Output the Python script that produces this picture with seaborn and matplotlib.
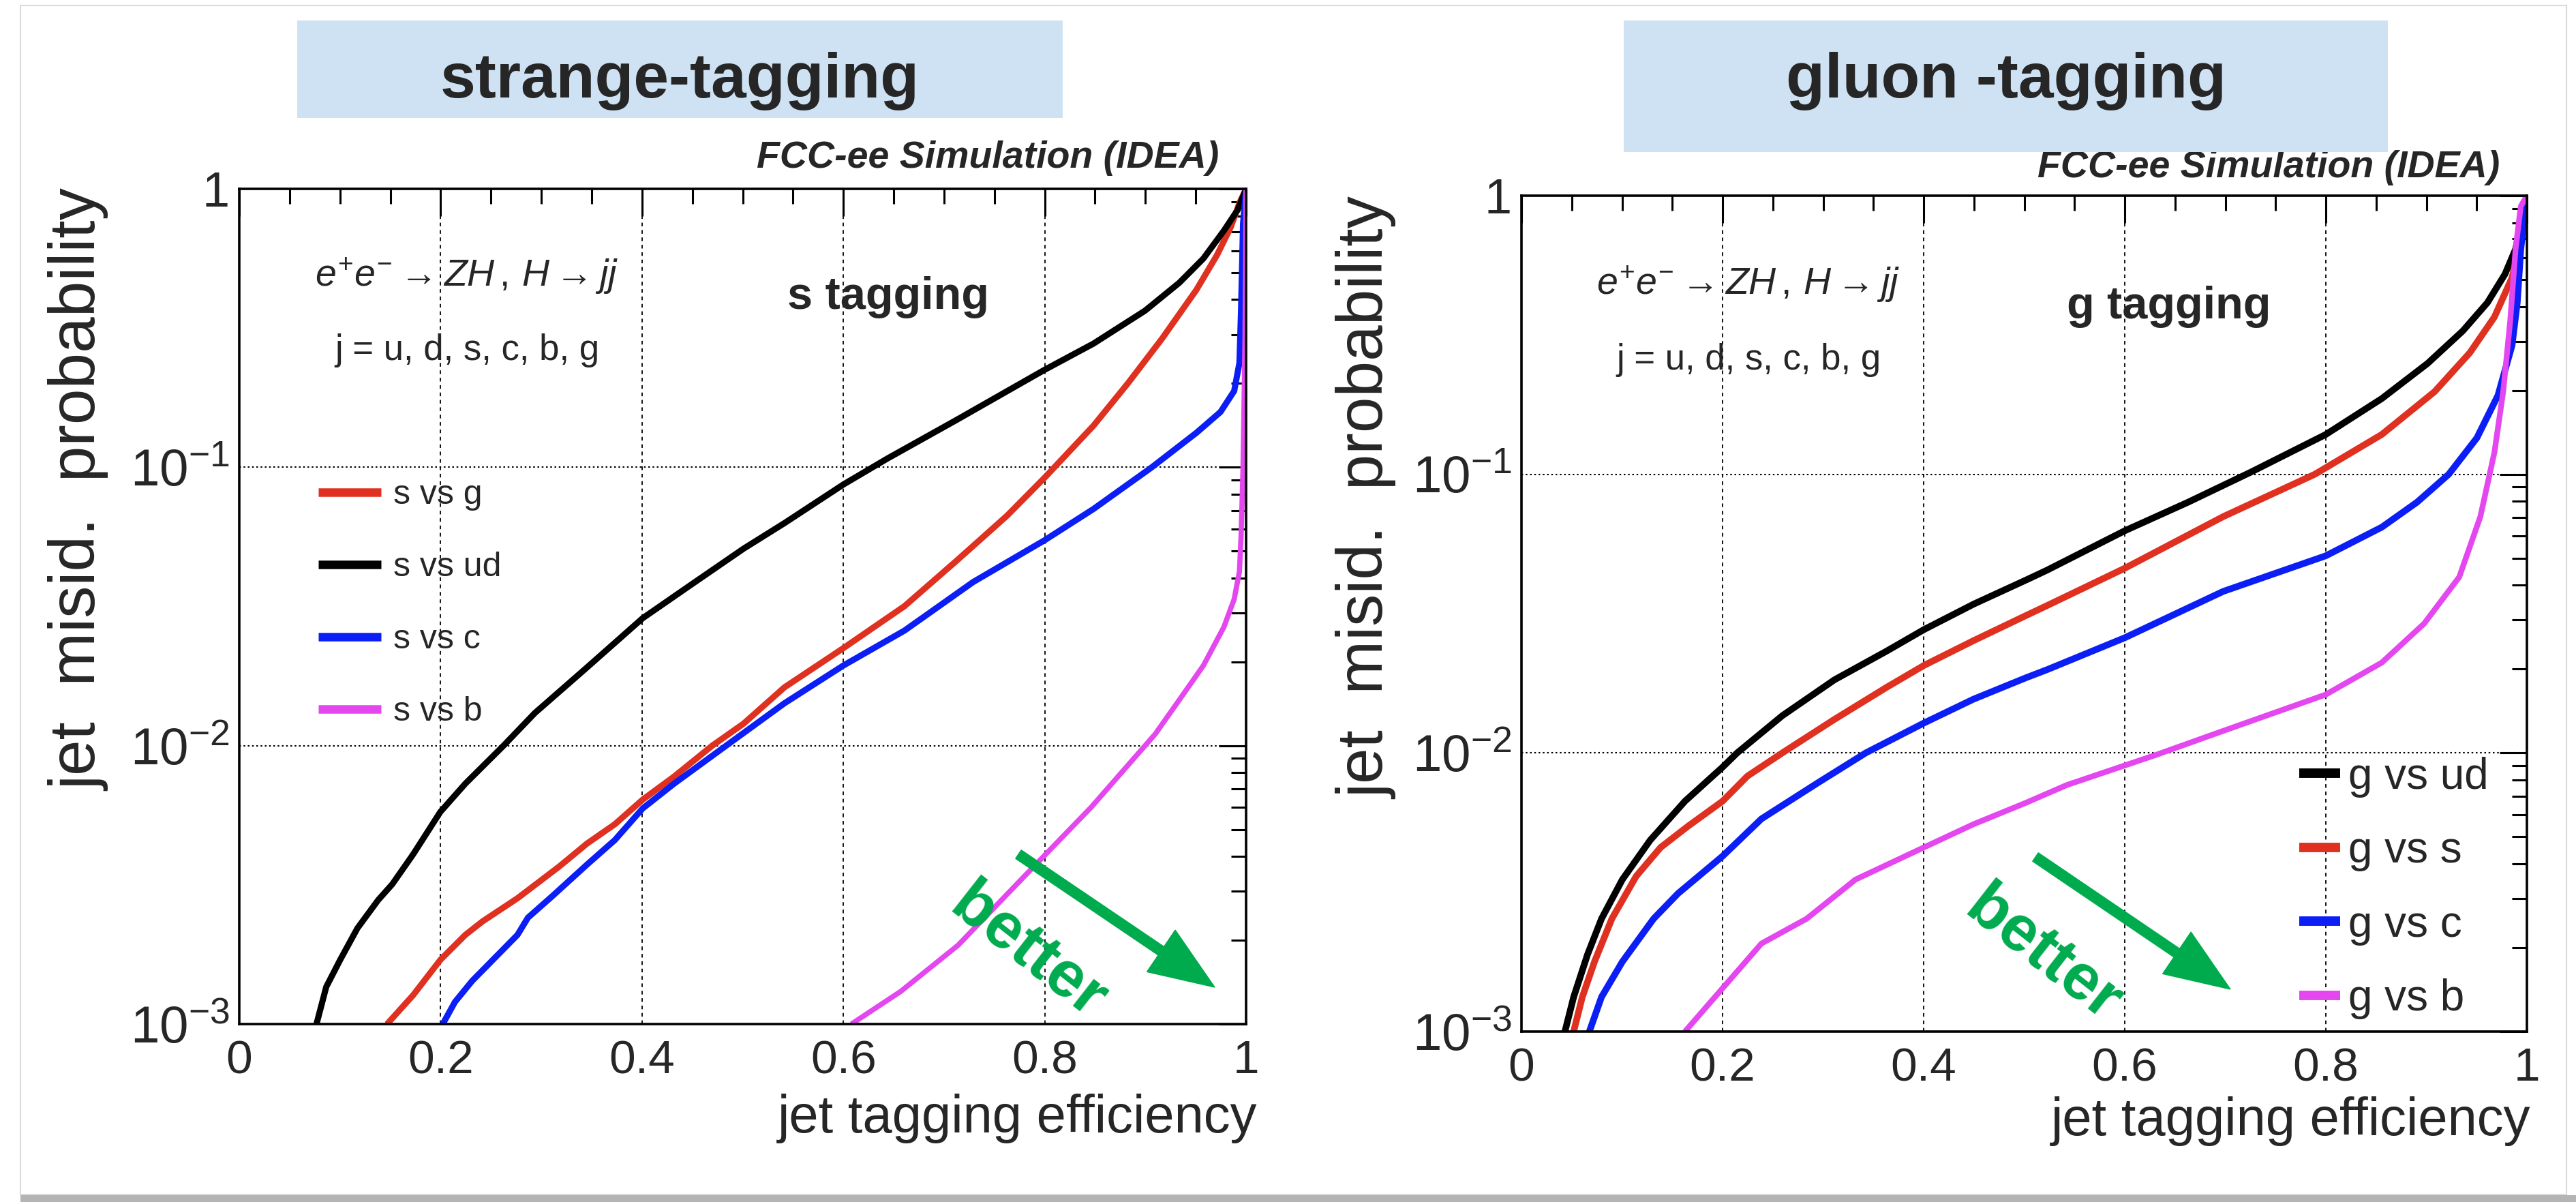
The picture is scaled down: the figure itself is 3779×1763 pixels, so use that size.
import numpy as np
import pandas as pd
import matplotlib
matplotlib.use("Agg")
import matplotlib.pyplot as plt
import seaborn as sns
from matplotlib.patches import Rectangle, FancyArrow
from matplotlib.ticker import MultipleLocator, LogLocator, NullFormatter

# ---------------- data ----------------
# strange tagging panel
s_vs_g_x = [0.1468, 0.1727, 0.1997, 0.2245, 0.2418, 0.2763, 0.3178, 0.3454, 0.373, 0.4007,
            0.4318, 0.4698, 0.5009, 0.5415, 0.6, 0.6607, 0.712, 0.7624, 0.8, 0.8484,
            0.8825, 0.9166, 0.9507, 0.9712, 0.9848, 0.9934, 1.0]
s_vs_g_y = [1e-3, 1.27e-3, 1.70e-3, 2.09e-3, 2.34e-3, 2.83e-3, 3.68e-3, 4.45e-3, 5.22e-3,
            6.4e-3, 7.74e-3, 1e-2, 1.2e-2, 1.62e-2, 2.24e-2, 3.17e-2, 4.6e-2, 6.69e-2,
            9.18e-2, 0.141, 0.2, 0.29, 0.434, 0.579, 0.729, 0.89, 1.0]
s_vs_ud_x = [0.0767, 0.0864, 0.1002, 0.1174, 0.138, 0.152, 0.1727, 0.1997, 0.2245, 0.2625,
             0.2936, 0.3454, 0.4007, 0.449, 0.5009, 0.5415, 0.6, 0.6438, 0.712, 0.8,
             0.8484, 0.8996, 0.9337, 0.9576, 0.978, 0.9917, 1.0]
s_vs_ud_y = [1e-3, 1.36e-3, 1.70e-3, 2.21e-3, 2.79e-3, 3.18e-3, 4.07e-3, 5.78e-3, 7.3e-3,
             1e-2, 1.31e-2, 1.91e-2, 2.87e-2, 3.79e-2, 5.1e-2, 6.3e-2, 8.67e-2, 0.1075,
             0.1476, 0.224, 0.278, 0.365, 0.46, 0.562, 0.708, 0.841, 1.0]
s_vs_c_x = [0.2021, 0.2142, 0.2314, 0.2625, 0.2763, 0.2867, 0.3109, 0.3454, 0.373, 0.4007,
            0.4318, 0.4836, 0.5415, 0.6, 0.6607, 0.7289, 0.8, 0.8484, 0.9064, 0.9507,
            0.9746, 0.9882, 0.9934, 0.995, 0.997, 1.0]
s_vs_c_y = [1e-3, 1.2e-3, 1.43e-3, 1.86e-3, 2.09e-3, 2.41e-3, 2.88e-3, 3.74e-3, 4.58e-3,
            5.95e-3, 7.3e-3, 1e-2, 1.42e-2, 1.94e-2, 2.59e-2, 3.87e-2, 5.47e-2, 7.08e-2,
            0.1, 0.133, 0.158, 0.188, 0.237, 0.365, 0.75, 1.0]
s_vs_b_x = [0.608, 0.657, 0.714, 0.78, 0.846, 0.9097, 0.9337, 0.9576, 0.978, 0.9882,
            0.9934, 0.995, 0.997, 0.999, 1.0]
s_vs_b_y = [1e-3, 1.31e-3, 1.92e-3, 3.4e-3, 6e-3, 1.1e-2, 1.46e-2, 1.94e-2, 2.67e-2,
            3.36e-2, 4.22e-2, 5.6e-2, 0.1, 0.3, 1.0]

# gluon tagging panel
g_vs_ud_x = [0.0432, 0.0519, 0.0657, 0.0796, 0.1003, 0.128, 0.1626, 0.2, 0.2145, 0.2594,
             0.3113, 0.3632, 0.4002, 0.4497, 0.5016, 0.5228, 0.6, 0.663, 0.7259, 0.8,
             0.8557, 0.9012, 0.9362, 0.9607, 0.9782, 0.9887, 0.9957, 1.0]
g_vs_ud_y = [1e-3, 1.33e-3, 1.89e-3, 2.54e-3, 3.51e-3, 4.86e-3, 6.71e-3, 8.89e-3, 1e-2,
             1.36e-2, 1.83e-2, 2.32e-2, 2.77e-2, 3.42e-2, 4.17e-2, 4.53e-2, 6.27e-2,
             7.94e-2, 0.102, 0.139, 0.187, 0.25, 0.327, 0.413, 0.523, 0.643, 0.838, 1.0]
g_vs_s_x = [0.0519, 0.0605, 0.0726, 0.0899, 0.1141, 0.1384, 0.166, 0.2, 0.2248, 0.2594,
            0.3113, 0.3632, 0.4002, 0.4497, 0.5016, 0.5228, 0.6, 0.698, 0.789, 0.8557,
            0.9082, 0.9432, 0.9677, 0.9852, 0.9939, 1.0]
g_vs_s_y = [1e-3, 1.33e-3, 1.78e-3, 2.54e-3, 3.61e-3, 4.58e-3, 5.47e-3, 6.71e-3, 8.26e-3,
            1e-2, 1.32e-2, 1.72e-2, 2.06e-2, 2.53e-2, 3.11e-2, 3.38e-2, 4.6e-2, 7.05e-2,
            0.1, 0.139, 0.198, 0.273, 0.367, 0.508, 0.682, 1.0]
g_vs_c_x = [0.0675, 0.0796, 0.1003, 0.1314, 0.1557, 0.2, 0.2387, 0.294, 0.3424, 0.4002,
            0.4497, 0.5016, 0.5228, 0.6, 0.698, 0.8, 0.8557, 0.8907, 0.9222, 0.9502,
            0.9712, 0.9852, 0.9904, 0.9939, 1.0]
g_vs_c_y = [1e-3, 1.33e-3, 1.78e-3, 2.54e-3, 3.13e-3, 4.26e-3, 5.8e-3, 7.78e-3, 1e-2,
            1.28e-2, 1.56e-2, 1.86e-2, 1.99e-2, 2.59e-2, 3.8e-2, 5.1e-2, 6.46e-2, 7.94e-2,
            0.1, 0.135, 0.192, 0.29, 0.413, 0.643, 1.0]
g_vs_b_x = [0.1626, 0.1799, 0.2, 0.2387, 0.2836, 0.3321, 0.4002, 0.4497, 0.5016, 0.5424,
            0.6315, 0.698, 0.8, 0.8557, 0.8977, 0.9327, 0.9537, 0.9677, 0.9764, 0.9834,
            0.9887, 0.9939, 1.0]
g_vs_b_y = [1e-3, 1.18e-3, 1.43e-3, 2.07e-3, 2.54e-3, 3.51e-3, 4.58e-3, 5.55e-3, 6.62e-3,
            7.67e-3, 9.85e-3, 1.2e-2, 1.62e-2, 2.11e-2, 2.91e-2, 4.28e-2, 7.05e-2, 0.12,
            0.198, 0.356, 0.643, 0.916, 1.0]

x_ticks = [0, 0.2, 0.4, 0.6, 0.8, 1.0]
x_tick_labels = ["0", "0.2", "0.4", "0.6", "0.8", "1"]
y_ticks = [1e-3, 1e-2, 1e-1, 1]
y_tick_labels = [r"10$^{-3}$", r"10$^{-2}$", r"10$^{-1}$", "1"]

left_series = ["s vs g", "s vs ud", "s vs c", "s vs b"]
right_series = ["g vs ud", "g vs s", "g vs c", "g vs b"]

RED, BLACK, BLUE, MAGENTA = "#e0301f", "#000000", "#0a1ef5", "#e447ef"
GREEN = "#00ab4e"
BOXBLUE = "#cfe2f3"

# ---------------- style ----------------
sns.set_theme(style="white")
plt.rcParams["font.family"] = ["Liberation Sans", "DejaVu Sans"]
plt.rcParams["mathtext.fontset"] = "custom"
plt.rcParams["mathtext.rm"] = "Liberation Sans"
plt.rcParams["mathtext.it"] = "Liberation Sans:italic"
plt.rcParams["mathtext.bf"] = "Liberation Sans:bold"
NARROW = ["Liberation Sans Narrow", "Liberation Sans", "DejaVu Sans"]

W, H, DPI = 3779, 1763, 100
fig = plt.figure(figsize=(W / DPI, H / DPI), dpi=DPI)
fig.patch.set_facecolor("white")


def fx(x):
    return x / W


def fy(y):
    return 1 - y / H


def make_axes(l, t, r, b):
    return fig.add_axes([l / W, 1 - b / H, (r - l) / W, (b - t) / H])


def style_axes(ax):
    ax.set_yscale("log")
    ax.set_xlim(0, 1)
    ax.set_ylim(1e-3, 1)
    ax.set_xticks(x_ticks, labels=x_tick_labels)
    ax.xaxis.set_minor_locator(MultipleLocator(0.05))
    ax.set_yticks(y_ticks, labels=y_tick_labels)
    ax.yaxis.set_minor_locator(LogLocator(base=10, subs=np.arange(2, 10) * 1.0, numticks=20))
    ax.yaxis.set_minor_formatter(NullFormatter())
    ax.tick_params(which="both", direction="in", top=True, right=True, color="black",
                   width=2.2)
    ax.tick_params(which="major", length=29, pad=14)
    ax.tick_params(which="minor", length=16)
    ax.tick_params(axis="x", which="major", labelsize=50, pad=16)
    ax.tick_params(axis="y", which="major", labelsize=55, pad=10)
    for lbl in ax.get_yticklabels():
        if lbl.get_text() == "1":
            lbl.set_fontsize(52)
    for sp in ax.spines.values():
        sp.set_visible(True)
        sp.set_color("black")
        sp.set_linewidth(2.6)
    ax.xaxis.grid(True, which="major", color="black", linestyle=(0, (3, 3)), linewidth=1.3)
    ax.yaxis.grid(True, which="major", color="black", linestyle=(0, (1.2, 1.8)), linewidth=1.5)
    ax.set_xlabel("")
    ax.set_ylabel("")
    ax.set_facecolor("white")


def draw(ax, xs, ys, name, color, lw):
    df = pd.DataFrame({"eff": xs, "mis": ys})
    sns.lineplot(data=df, x="eff", y="mis", color=color, linewidth=lw, label=name,
                 estimator=None, sort=False, ax=ax, solid_joinstyle="round",
                 solid_capstyle="butt")


# ---------------- left panel ----------------
axL = make_axes(351, 277, 1828, 1502)
draw(axL, s_vs_g_x, s_vs_g_y, left_series[0], RED, 6.5)
draw(axL, s_vs_ud_x, s_vs_ud_y, left_series[1], BLACK, 6.5)
draw(axL, s_vs_c_x, s_vs_c_y, left_series[2], BLUE, 6.5)
draw(axL, s_vs_b_x, s_vs_b_y, left_series[3], MAGENTA, 5.5)
style_axes(axL)
legL = axL.legend(loc="upper left", bbox_to_anchor=(0.0785, 0.652), frameon=False,
                  prop={"family": NARROW, "size": 36}, handlelength=1.85,
                  handletextpad=0.36, labelspacing=1.2, borderpad=0, borderaxespad=0)
for l in legL.get_lines():
    l.set_linewidth(9)

# ---------------- right panel ----------------
axR = make_axes(2232, 287, 3707, 1513)
draw(axR, g_vs_ud_x, g_vs_ud_y, right_series[0], BLACK, 7.0)
draw(axR, g_vs_s_x, g_vs_s_y, right_series[1], RED, 7.0)
draw(axR, g_vs_c_x, g_vs_c_y, right_series[2], BLUE, 7.0)
draw(axR, g_vs_b_x, g_vs_b_y, right_series[3], MAGENTA, 6.0)
style_axes(axR)
legR = axR.legend(loc="upper left", bbox_to_anchor=(0.7736, 0.329), frameon=False,
                  fontsize=46, handlelength=0.94, handletextpad=0.19, labelspacing=0.76,
                  borderpad=0, borderaxespad=0)
for l in legR.get_lines():
    l.set_linewidth(10)

# ---------------- figure texts ----------------
fig.add_artist(Rectangle((fx(436), fy(173)), (1559 - 436) / W, (173 - 30) / H,
                         transform=fig.transFigure, facecolor=BOXBLUE, edgecolor="none",
                         zorder=5))
fig.add_artist(Rectangle((fx(2382), fy(223)), (3503 - 2382) / W, (223 - 30) / H,
                         transform=fig.transFigure, facecolor=BOXBLUE, edgecolor="none",
                         zorder=5))
fig.text(fx(997), fy(143), "strange-tagging", fontsize=67, fontweight="bold",
         ha="center", va="baseline", zorder=6)
fig.text(fx(2943), fy(143), "gluon -tagging", fontsize=67, fontweight="bold",
         ha="center", va="baseline", zorder=6)

fig.text(fx(1788), fy(246), "FCC-ee Simulation (IDEA)", fontsize=40, fontweight="bold",
         style="italic", family=NARROW, ha="right", va="baseline", zorder=4)
fig.text(fx(3667), fy(260), "FCC-ee Simulation (IDEA)", fontsize=40, fontweight="bold",
         style="italic", family=NARROW, ha="right", va="baseline", zorder=4)

proc = r"$e^{+}e^{-}\rightarrow ZH\,,\,H\rightarrow jj$"
for cx, by1, by2 in [(685, 420, 528), (2565, 432, 542)]:
    fig.text(fx(cx), fy(by1), proc, fontsize=40, ha="center", va="baseline")
    fig.text(fx(cx), fy(by2), "j = u, d, s, c, b, g", fontsize=38, ha="center",
             va="baseline", family=NARROW)
fig.text(fx(1303), fy(453), "s tagging", fontsize=48, fontweight="bold", ha="center",
         va="baseline")
fig.text(fx(3182), fy(467), "g tagging", fontsize=48, fontweight="bold", ha="center",
         va="baseline")

fig.text(fx(117), fy(277), "jet  misid.  probability", fontsize=68, rotation=90,
         ha="center", va="top")
fig.text(fx(2006), fy(289), "jet  misid.  probability", fontsize=68, rotation=90,
         ha="center", va="top")
fig.text(fx(1844), fy(1661), "jet tagging efficiency", fontsize=56, ha="right",
         va="baseline")
fig.text(fx(3712), fy(1665), "jet tagging efficiency", fontsize=56, ha="right",
         va="baseline")

# "better" arrows
for (tx, ty), (ax0, ay0, ax1, ay1) in [((1508, 1398), (1494, 1253, 1782, 1448)),
                                       ((2997, 1402), (2986, 1257, 3272, 1451))]:
    fig.text(fx(tx), fy(ty), "better", fontsize=68, fontweight="bold", color=GREEN,
             rotation=-38, rotation_mode="anchor", ha="center", va="center", zorder=7)
    arr = FancyArrow(ax0 / DPI, (H - ay0) / DPI, (ax1 - ax0) / DPI, -(ay1 - ay0) / DPI,
                     width=0.15, head_width=0.74, head_length=0.95,
                     length_includes_head=True, color=GREEN,
                     transform=fig.dpi_scale_trans, zorder=7)
    fig.add_artist(arr)

# slide frame
fig.add_artist(Rectangle((30 / DPI, (H - 1752) / DPI), (3765 - 30) / DPI, (1752 - 8) / DPI,
                         transform=fig.dpi_scale_trans, fill=False, edgecolor="#dadada",
                         linewidth=1.5, zorder=1))
fig.add_artist(Rectangle((30 / DPI, 0), (3779 - 30) / DPI, (H - 1753) / DPI,
                         transform=fig.dpi_scale_trans, facecolor="#b4b4b4",
                         edgecolor="none", zorder=1))

fig.savefig("out.png", dpi=DPI, facecolor="white")
